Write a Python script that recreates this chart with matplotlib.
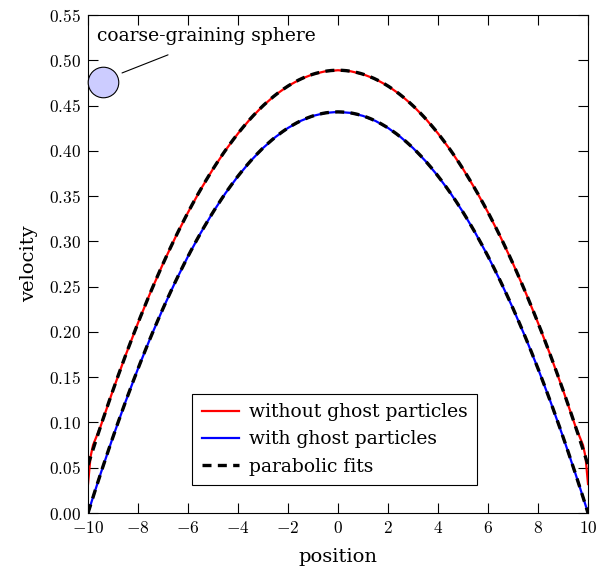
import numpy as np
import matplotlib
matplotlib.use("Agg")
import matplotlib.pyplot as plt
from matplotlib.ticker import FuncFormatter

plt.rcParams['font.family'] = ['DejaVu Serif']
plt.rcParams['mathtext.fontset'] = 'cm'

position = [-10.0, -9.9, -9.8, -9.5, -9.0, -8.5, -8.0, -7.5, -7.0, -6.5, -6.0, -5.5, -5.0,
            -4.5, -4.0, -3.5, -3.0, -2.5, -2.0, -1.5, -1.0, -0.5, 0.0,
            0.5, 1.0, 1.5, 2.0, 2.5, 3.0, 3.5, 4.0, 4.5, 5.0, 5.5, 6.0,
            6.5, 7.0, 7.5, 8.0, 8.5, 9.0, 9.5, 9.8, 9.9, 10.0]
vel_no_ghost = [0.032, 0.062, 0.075, 0.0955, 0.1358, 0.1740, 0.2100, 0.2438, 0.2754, 0.3048,
                0.3320, 0.3571, 0.3800, 0.4007, 0.4192, 0.4356, 0.4498, 0.4618, 0.4716,
                0.4792, 0.4846, 0.4879, 0.4890,
                0.4879, 0.4846, 0.4792, 0.4716, 0.4618, 0.4498, 0.4356, 0.4192, 0.4007,
                0.3800, 0.3571, 0.3320, 0.3048, 0.2754, 0.2438, 0.2100, 0.1740, 0.1358,
                0.0955, 0.075, 0.062, 0.032]
vel_ghost = [0.0, 0.0088, 0.0175, 0.0432, 0.0842, 0.1229, 0.1595, 0.1938, 0.2259, 0.2558,
             0.2835, 0.3090, 0.3323, 0.3533, 0.3721, 0.3887, 0.4031, 0.4153, 0.4253,
             0.4330, 0.4386, 0.4419, 0.4430,
             0.4419, 0.4386, 0.4330, 0.4253, 0.4153, 0.4031, 0.3887, 0.3721, 0.3533,
             0.3323, 0.3090, 0.2835, 0.2558, 0.2259, 0.1938, 0.1595, 0.1229, 0.0842,
             0.0432, 0.0175, 0.0088, 0.0]

sphere_pos = (-9.4, 0.476)

fig = plt.figure(figsize=(5.96, 5.73), dpi=100)
ax = fig.add_axes([0.1477, 0.1047, 0.8389, 0.8691])

x = np.array(position)
xf = np.linspace(-10, 10, 400)

ax.plot(x, vel_no_ghost, color='red', lw=1.6, label='without ghost particles')
ax.plot(x, vel_ghost, color='blue', lw=1.6, label='with ghost particles')

mask = np.abs(x) < 9.7
p1 = np.polyfit(x[mask], np.array(vel_no_ghost)[mask], 2)
p2 = np.polyfit(x, vel_ghost, 2)
ax.plot(xf, np.polyval(p1, xf), color='black', lw=2.4, ls=(0, (2.7, 1.9)), label='parabolic fits')
ax.plot(xf, np.polyval(p2, xf), color='black', lw=2.4, ls=(0, (2.7, 1.9)))

# coarse-graining sphere marker + label
ax.plot([sphere_pos[0]], [sphere_pos[1]], 'o', ms=22, mfc='#ccccff', mec='black', mew=0.8,
        clip_on=False, zorder=5)
ax.text(-9.65, 0.527, 'coarse-graining sphere', fontsize=13.5, ha='left', va='center')
ax.annotate('', xy=(-8.64, 0.486), xytext=(-6.8, 0.506),
            arrowprops=dict(arrowstyle='-', color='black', lw=0.8,
                            shrinkA=0, shrinkB=0))

ax.set_xlim(-10, 10)
ax.set_ylim(0, 0.55)
ax.set_xticks(np.arange(-10, 11, 2))
ax.set_yticks(np.arange(0, 0.551, 0.05))
ax.xaxis.set_major_formatter(FuncFormatter(lambda v, p: '$%d$' % round(v)))
ax.yaxis.set_major_formatter(FuncFormatter(lambda v, p: '$%.2f$' % v))
ax.tick_params(direction='in', length=7, width=0.8, top=True, right=True,
               labelsize=12.5, pad=5)
for s in ax.spines.values():
    s.set_linewidth(0.8)

ax.set_xlabel('position', fontsize=14, labelpad=8)
ax.set_ylabel('velocity', fontsize=14, labelpad=8)

leg = ax.legend(loc='lower left', bbox_to_anchor=(0.19, 0.037), fontsize=13.5,
                fancybox=False, edgecolor='black', framealpha=1,
                handlelength=2.0, handletextpad=0.5, labelspacing=0.5,
                borderpad=0.5)
leg.get_frame().set_linewidth(0.8)

fig.savefig('out.png', dpi=100)
